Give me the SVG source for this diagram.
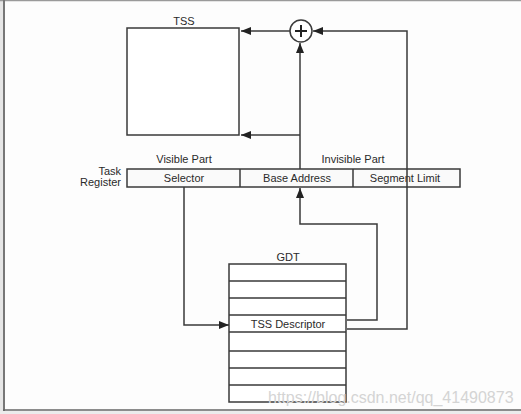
<svg xmlns="http://www.w3.org/2000/svg" width="521" height="414" viewBox="0 0 521 414">
<defs>
<style>
.ln{fill:none;stroke:#3a3a3a;stroke-width:1.5}
.bx{fill:#fff;stroke:#3a3a3a;stroke-width:1.5}
.t{font-family:"Liberation Sans",Arial,sans-serif;font-size:11px;fill:#2a2a2a}
.m{text-anchor:middle}
.e{text-anchor:end}
</style>
<marker id="ah" markerUnits="userSpaceOnUse" markerWidth="10" markerHeight="8" refX="10" refY="4" orient="auto">
<path d="M0,0 L10,4 L0,8 z" fill="#222"/>
</marker>
</defs>
<rect x="0" y="0" width="521" height="414" fill="#fdfdfd"/>
<g id="frame">
<rect x="0" y="0" width="3" height="414" fill="#e6e6e6"/>
<rect x="0" y="411" width="521" height="3" fill="#ececec"/>
<line x1="0" y1="0.5" x2="521" y2="0.5" stroke="#9a9a9a" stroke-width="1.5"/>
<line x1="4" y1="0" x2="4" y2="411" stroke="#777" stroke-width="2"/>
<line x1="3" y1="410" x2="521" y2="410" stroke="#666" stroke-width="1.5"/>
</g>
<g id="tss">
<rect class="bx" x="127" y="28" width="112" height="107"/>
<text class="t m" x="184" y="25">TSS</text>
</g>
<g id="adder">
<circle cx="301" cy="31" r="11" fill="#fff" stroke="#3a3a3a" stroke-width="1.5"/>
<path d="M295,31 H307 M301,25 V37" stroke="#222" stroke-width="2" fill="none"/>
</g>
<g id="task-register">
<rect x="127" y="169" width="333" height="18" fill="#fafafa" stroke="#3a3a3a" stroke-width="1.5"/>
<line class="ln" x1="240" y1="169" x2="240" y2="187"/>
<line class="ln" x1="353" y1="169" x2="353" y2="187"/>
<text class="t m" x="184" y="182">Selector</text>
<text class="t m" x="297" y="182">Base Address</text>
<text class="t m" x="405" y="182">Segment Limit</text>
<text class="t m" x="184" y="163">Visible Part</text>
<text class="t m" x="353" y="163">Invisible Part</text>
<text class="t e" x="121" y="175">Task</text>
<text class="t e" x="121" y="186">Register</text>
</g>
<g id="gdt">
<rect class="bx" x="229" y="264" width="117" height="138"/>
<path class="ln" d="M229,281 H346 M229,298 H346 M229,315 H346 M229,332 H346 M229,351 H346 M229,368 H346 M229,385 H346"/>
<text class="t m" x="288" y="261">GDT</text>
<text class="t m" x="288" y="328">TSS Descriptor</text>
</g>
<g id="connectors">
<path class="ln" d="M290,31 H241" marker-end="url(#ah)"/>
<path class="ln" d="M347,329 H407 V31 H313" marker-end="url(#ah)"/>
<path class="ln" d="M300,169 V43" marker-end="url(#ah)"/>
<path class="ln" d="M300,135 H241" marker-end="url(#ah)"/>
<path class="ln" d="M347,320 H377 V224 H300 V188" marker-end="url(#ah)"/>
<path class="ln" d="M184,187 V325 H229" marker-end="url(#ah)"/>
</g>
<text x="268" y="403" font-family="'Liberation Sans',Arial,sans-serif" font-size="16" fill="#d4d4d4">https://blog.csdn.net/qq_41490873</text>
</svg>
